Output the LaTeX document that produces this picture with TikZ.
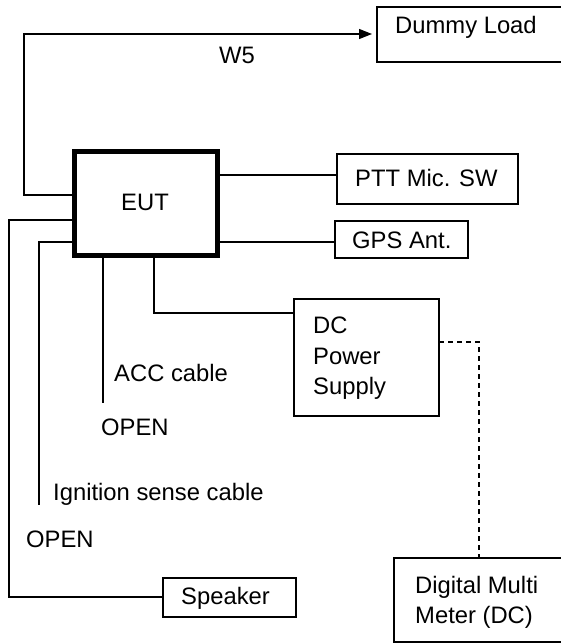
\documentclass[tikz,border=0pt]{standalone}
\usepackage{fontspec}
\setmainfont{Liberation Sans}
\usetikzlibrary{arrows.meta}
\tikzset{
  box/.style={draw, line width=1.8pt, rectangle, inner sep=0pt, outer sep=0pt, anchor=north west},
  eutbox/.style={draw, line width=5pt, rectangle, inner sep=0pt, outer sep=0pt, anchor=north west},
  conn/.style={line width=1.2pt},
  dconn/.style={line width=1.3pt, dash pattern=on 5pt off 4pt},
  txt/.style={inner sep=0pt, anchor=base west, font=\fontsize{23.8}{31}\selectfont},
}
\begin{document}
\begin{tikzpicture}[x=1pt, y=-1pt]
\useasboundingbox (0,0) rectangle (560,644);
% boxes
\node[box, minimum width=188pt, minimum height=55pt] (dummy) at (377,7) {};
\node[eutbox, minimum width=143pt, minimum height=103pt] (eut) at (74,152) {};
\node[box, minimum width=181pt, minimum height=50pt] (ptt) at (337,154) {};
\node[box, minimum width=133pt, minimum height=37pt] (gps) at (335,221) {};
\node[box, minimum width=145pt, minimum height=117pt] (dc) at (294,299) {};
\node[box, minimum width=133pt, minimum height=39pt] (spk) at (163,578) {};
\node[box, minimum width=171pt, minimum height=84pt] (dmm) at (394,558) {};
% texts
\node[txt] (tdummy) at (395,34) {Dummy Load};
\node[txt] (tw5) at (219,64) {W5};
\node[txt] (teut) at (121,211) {EUT};
\node[txt] (tptt) at (355,187) {PTT Mic. SW};
\node[txt] (tgps) at (352,248) {GPS Ant.};
\node[txt] (tdc1) at (313,333) {DC};
\node[txt] (tdc2) at (313,364) {Power};
\node[txt] (tdc3) at (313,394) {Supply};
\node[txt] (tacc) at (114,381) {ACC cable};
\node[txt] (topen1) at (101,435) {OPEN};
\node[txt] (tign) at (53,500) {Ignition sense cable};
\node[txt] (topen2) at (26,547) {OPEN};
\node[txt] (tspk) at (181,604) {Speaker};
\node[txt] (tdmm1) at (415,593) {Digital Multi};
\node[txt] (tdmm2) at (415,623) {Meter (DC)};
% free ends
\coordinate (accend) at (103,403);
\coordinate (ignend) at (39,505);
% connectors
\draw[conn, -{Triangle[length=13pt, width=10pt]}, shorten >=5pt]
  (eut.west |- 0,195) -| (24,34) -- (dummy.west |- 0,34);
\draw[conn] (eut.east |- 0,175) -- (ptt.west |- 0,175);
\draw[conn] (eut.east |- 0,242) -- (gps.west |- 0,242);
\draw[conn] (eut.west |- 0,220) -| (9,597) -- (spk.west |- 0,597);
\draw[conn] (eut.west |- 0,242) -| (ignend);
\draw[conn] (eut.south -| accend) -- (accend);
\draw[conn] (eut.south -| 154,0) |- (dc.west |- 0,313);
\draw[dconn] (dc.east |- 0,342) -| (dmm.north -| 479,0);
\end{tikzpicture}
\end{document}
